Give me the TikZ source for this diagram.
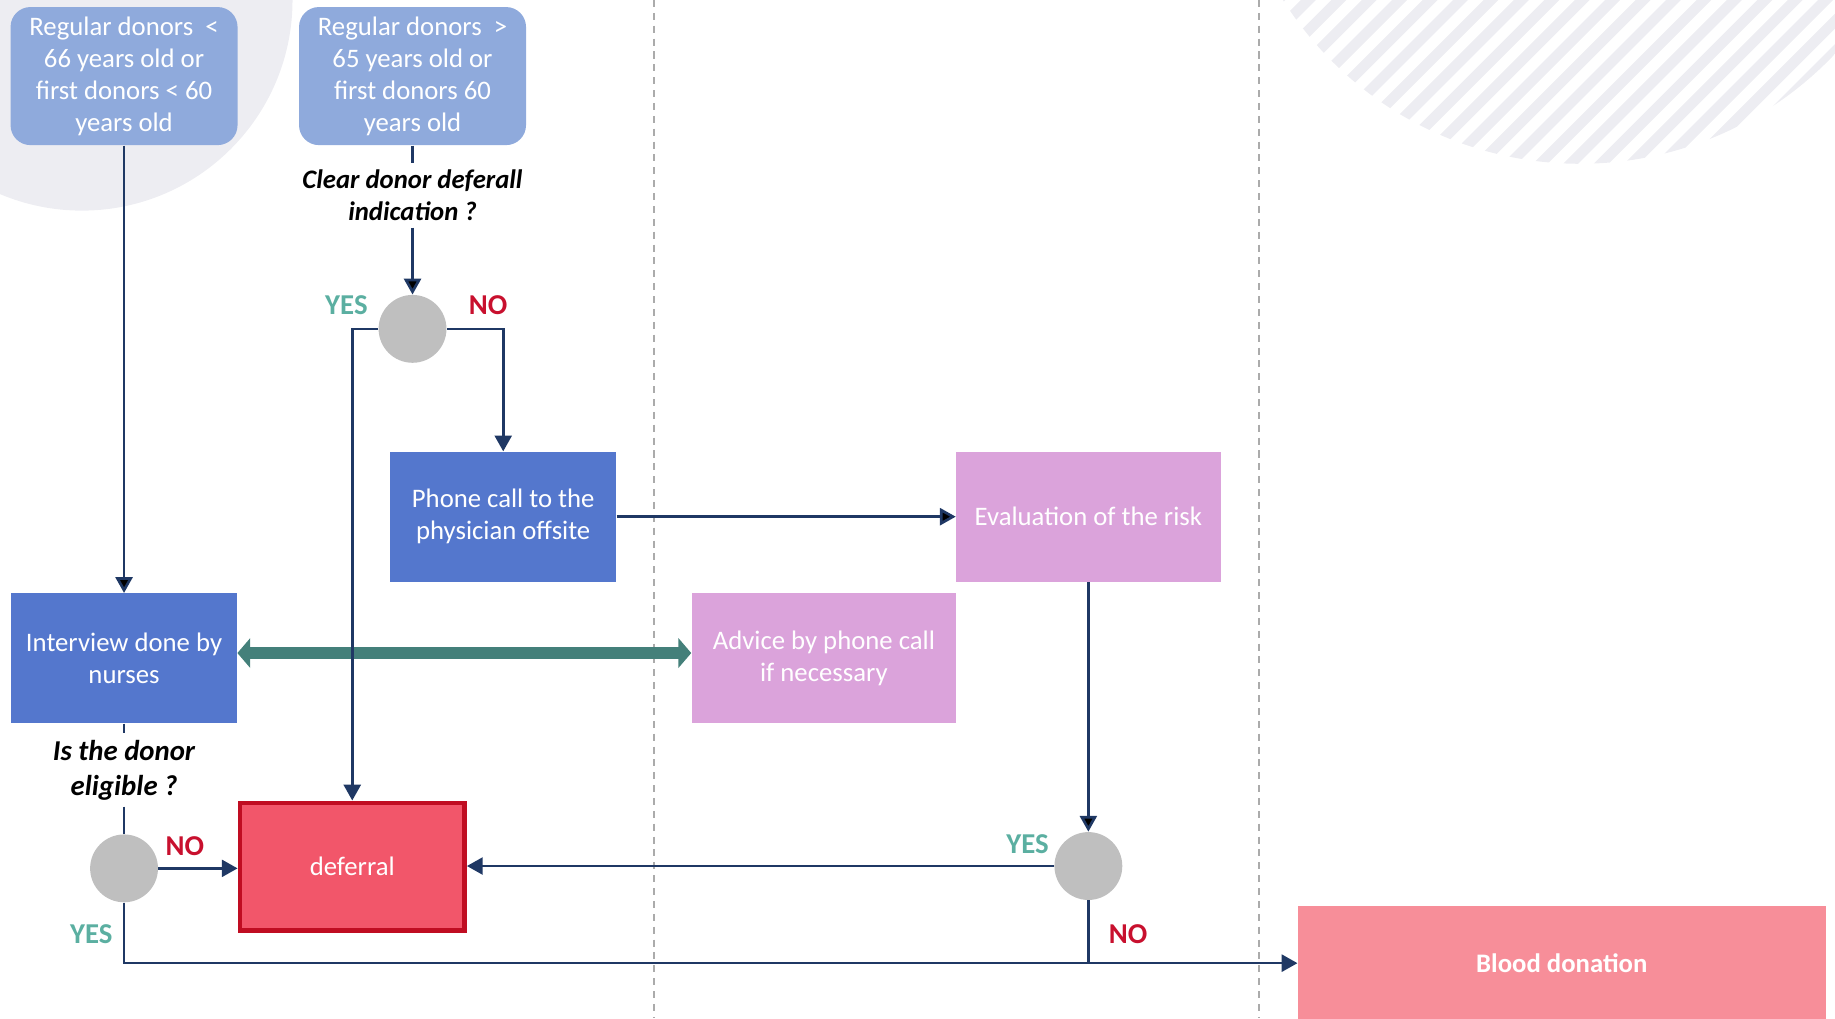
\documentclass[tikz,border=0pt]{standalone}
\usepackage{fontspec}
\setmainfont{Carlito}
\usetikzlibrary{positioning, arrows.meta}
\definecolor{lightblue}{HTML}{8FAADC}
\definecolor{midblue}{HTML}{5477CD}
\definecolor{plum}{HTML}{DBA3DB}
\definecolor{deferfill}{HTML}{F2566A}
\definecolor{deferline}{HTML}{C00D22}
\definecolor{bloodpink}{HTML}{F78E99}
\definecolor{navy}{HTML}{1F3864}
\definecolor{tealbond}{HTML}{44807A}
\definecolor{yesgreen}{HTML}{5BAFA1}
\definecolor{nored}{HTML}{C8102E}
\definecolor{choicegray}{HTML}{BFBFBF}
\definecolor{backgray}{HTML}{EDEDF2}
\definecolor{guidegray}{HTML}{ABABAB}
\tikzset{
x=0.02cm, y=-0.02cm, % one unit is one pixel of the sketch, y runs downwards
>={Triangle[length=0.27cm, width=0.29cm]}, % filled arrow heads
flow/.style={draw=navy, line width=1.3pt}, % the thin connectors
bond/.style={draw=tealbond, line width=6pt, {Triangle[length=0.22cm, width=0.5cm]}-{Triangle[length=0.22cm, width=0.5cm]}},
guide/.style={draw=guidegray, line width=0.8pt, dash pattern=on 0.12cm off 0.1cm},
box/.style={rectangle, inner sep=0pt, text=white, align=center, font=\fontsize{13}{15.6}\selectfont},
donor/.style={box, rounded corners=0.34cm, fill=lightblue, minimum width=3.88cm, minimum height=2.36cm},
action/.style={box, fill=midblue, minimum width=3.86cm, minimum height=2.22cm},
risk/.style={box, fill=plum, minimum width=4.52cm, minimum height=2.22cm},
choice/.style={circle, fill=choicegray, minimum size=1.16cm, inner sep=0pt},
question/.style={align=center, inner sep=3pt, font=\fontsize{13}{15.6}\selectfont\bfseries\itshape},
yeslabel/.style={text=yesgreen, font=\fontsize{14}{16}\selectfont\bfseries},
nolabel/.style={text=nored, font=\fontsize{14}{16}\selectfont\bfseries},
}
\begin{document}
\begin{tikzpicture}
\useasboundingbox (0,0) rectangle (1568,870);
% background shapes
\fill[backgray] (70,0) circle [radius=3.6cm];
\begin{scope}
\clip (1350,-160) circle [radius=6cm];
\foreach \k in {0,...,27}
    \draw[backgray, line width=0.18cm] (640+\k*26,400) -- ++(500,-500);
\end{scope}
\draw[guide] (559,0) -- (559,870);
\draw[guide] (1076,0) -- (1076,870);

\node[donor] (young) at (106,65) {Regular donors~ <\\66 years old or\\first donors < 60\\years old};
\node[donor] (old) at (352.5,65) {Regular donors~ >\\65 years old or\\first donors 60\\years old};
\node[question] (clear) at (352.5,167) {Clear donor deferall\\indication ?};
\node[choice] (c1) at (352.5,281) {};
\node[action] (phone) at (430,441.5) {Phone call to the\\physician offsite};
\node[risk] (eval) at (930,441.5) {Evaluation of the risk};
\node[action] (nurse) at (106,562.5) {Interview done by\\nurses};
\node[risk] (advice) at (704,562.5) {Advice by phone call\\if necessary};
\node[question, font=\fontsize{14}{17}\selectfont\bfseries\itshape] (eligible) at (106,658) {Is the donor\\eligible ?};
\node[choice] (c2) at (106,742) {};
\node[box, fill=deferfill, draw=deferline, line width=0.08cm, minimum width=3.84cm, minimum height=2.18cm] (defer) at (301,740.5) {deferral};
\node[choice] (c3) at (930,740) {};
\node[box, fill=bloodpink, minimum width=9.02cm, minimum height=1.96cm, font=\fontsize{13}{15.6}\selectfont\bfseries] (blood) at (1334.5,823) {Blood donation};

\node[yeslabel] (yes1) at (296,261) {YES};
\node[nolabel] (no1) at (417,261) {NO};
\node[nolabel] (no2) at (158,723) {NO};
\node[yeslabel] (yes2) at (78,798) {YES};
\node[yeslabel] (yes3) at (878,721) {YES};
\node[nolabel] (no3) at (964,798) {NO};

\draw[bond] ([yshift=0.09cm]nurse.east) -- ([yshift=0.09cm]advice.west);
\draw[flow]
    (young) edge[->] (nurse)
    (old) edge (clear)
    (clear) edge[->] (c1)
    (phone) edge[->] (eval)
    (nurse) edge (eligible)
    (eligible) edge (c2)
    (eval) edge[->] (c3)
    ;
\draw[flow, ->] (c1.west) -| (defer.north);
\draw[flow, ->] (c1.east) -| (phone.north);
\draw[flow, ->] (c2.east) -- (c2.east -| defer.west);
\draw[flow, ->] (c3.west) -- (c3.west -| defer.east);
\draw[flow, ->] (c2.south) |- (blood.west);
\draw[flow] (c3.south) -- (c3.south |- blood.west);
\end{tikzpicture}
\end{document}
